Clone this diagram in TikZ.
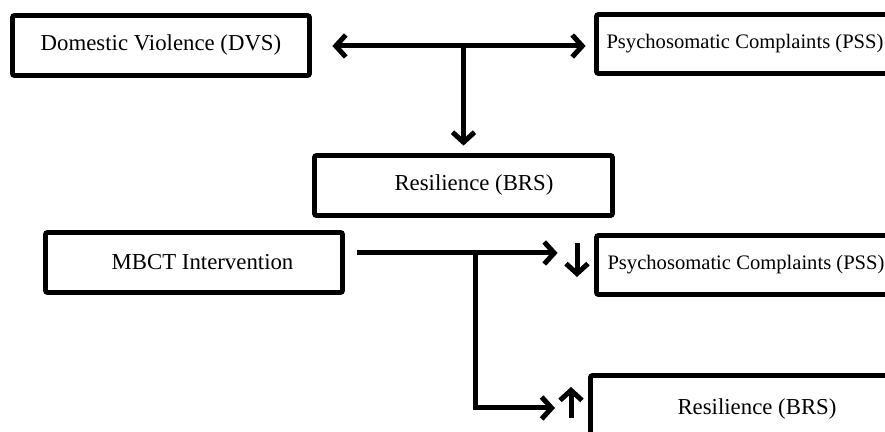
\documentclass[tikz,border=0pt]{standalone}
\usepackage{fontspec}
\setmainfont{Liberation Serif}
\usetikzlibrary{arrows.meta}
\begin{document}
\begin{tikzpicture}[x=0.5pt,y=-0.5pt,
  >={Straight Barb[length=5pt,width=11pt]},
  box/.style={draw, line width=2.4pt, rounded corners=1pt, inner sep=0pt, anchor=center},
  conn/.style={line width=2.5pt},
  txt/.style={font=\fontsize{11.4pt}{13pt}\selectfont},
  smalltxt/.style={font=\fontsize{10.3pt}{12pt}\selectfont}]
\clip (0,0) rectangle (885,432);
\fill[white] (0,0) rectangle (885,432);
% boxes
\node[box, txt, minimum width=148.5pt, minimum height=30pt] (dvs) at (161,45.5) {Domestic Violence (DVS)};
\node[box, smalltxt, minimum width=148.5pt, minimum height=29.5pt] (pss1) at (745,44) {Psychosomatic Complaints (PSS)};
\node[box, txt, minimum width=149pt, minimum height=30pt] (mid) at (463.5,185.5) {\hspace*{10.5pt}Resilience (BRS)};
\node[box, txt, minimum width=148.5pt, minimum height=30pt] (mbct) at (194,262.5) {\hspace*{8.5pt}MBCT Intervention};
\node[box, smalltxt, minimum width=149.5pt, minimum height=29.5pt] (pss2) at (746,265) {Psychosomatic Complaints (PSS)};
\node[box, txt, minimum width=166.5pt, minimum height=33.25pt] (brs2) at (757,408.75) {Resilience (BRS)};
% coordinates
\coordinate (j1) at (463.5,46);
\coordinate (m0) at (357,253);
\coordinate (j2) at (475,253);
\coordinate (b1) at (555,408);
\coordinate (dnA) at (577,243);
\coordinate (dnB) at (577,277);
\coordinate (upA) at (571,418);
\coordinate (upB) at (571,387);
% connectors
\draw[conn,<->,shorten <=10.25pt,shorten >=4.25pt] (dvs.east |- j1) -- (pss1.west |- j1);
\draw[conn,->,shorten >=3.75pt] (j1) -- (mid.north);
\draw[conn,->,shorten >=18.25pt] (m0) -- (m0 -| pss2.west);
\draw[conn,->] (j2) |- (b1);
\draw[conn,->] (dnA) -- (dnB);
\draw[conn,->] (upA) -- (upB);
\end{tikzpicture}
\end{document}
